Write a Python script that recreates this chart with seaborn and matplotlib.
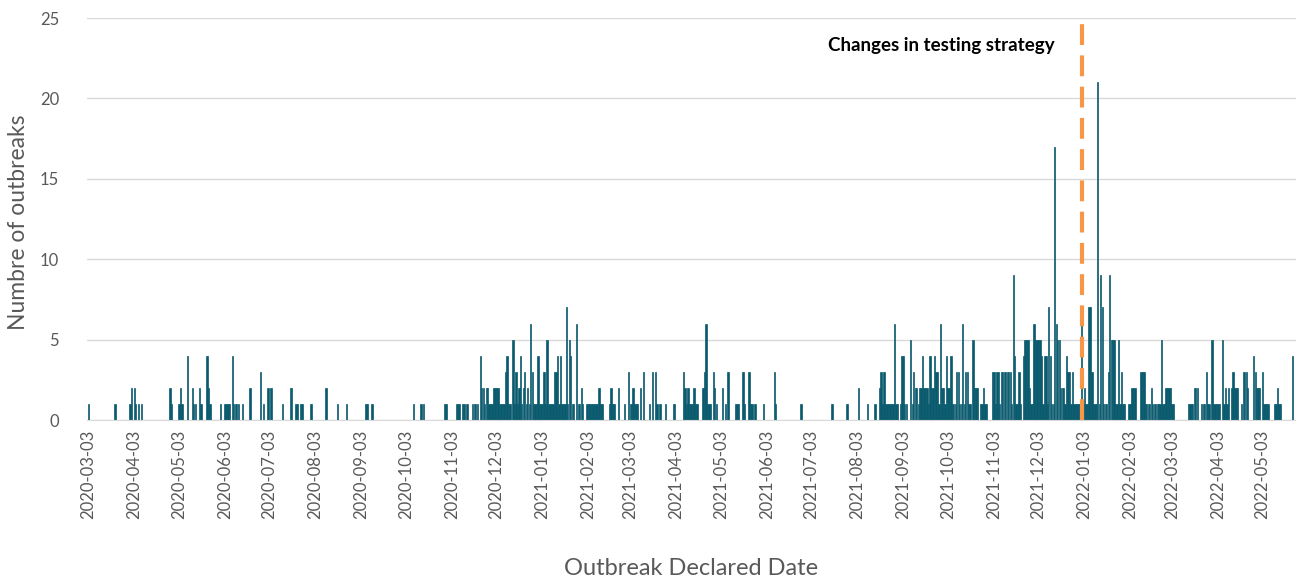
import pandas as pd
import matplotlib
matplotlib.use("Agg")
import matplotlib.pyplot as plt
import seaborn as sns

# first and last day on the axis
first_date = "2020-03-03"
last_date = "2022-05-24"

# quiet periods, kept as (days after first_date, outbreaks)
days_2020 = [0, 18, 28, 29, 31, 32, 34, 36, 55, 56,
             61, 62, 63, 67, 70, 71, 72, 75, 76, 80,
             81, 82, 89, 92, 93, 94, 95, 97, 98, 99,
             100, 101, 104, 109, 116, 118, 121, 123, 131, 136,
             137, 140, 141, 143, 144, 150, 160, 168, 174, 187,
             188, 191, 219, 224, 226, 240, 241, 248, 249, 250,
             252, 253, 255, 259, 260, 261, 262]
counts_2020 = [1, 1, 1, 2, 2, 1, 1, 1, 2, 1,
               1, 2, 1, 4, 2, 1, 1, 2, 1, 4,
               2, 1, 1, 1, 1, 1, 1, 4, 1, 1,
               1, 1, 1, 2, 3, 1, 2, 2, 1, 2,
               2, 1, 1, 1, 1, 1, 2, 1, 1, 1,
               1, 1, 1, 1, 1, 1, 1, 1, 1, 1,
               1, 1, 1, 1, 1, 1, 1]

days_2021 = [336, 337, 338, 339, 340, 341, 342, 343, 344, 345,
             346, 351, 352, 353, 354, 357, 361, 364, 365, 366,
             367, 368, 369, 370, 372, 374, 378, 380, 382, 383,
             385, 389, 394, 395, 401, 402, 403, 404, 405, 406,
             407, 408, 409, 410, 414, 415, 416, 417, 418, 419,
             421, 422, 423, 427, 429, 431, 436, 437, 438, 441,
             442, 445, 446, 447, 449, 455, 462, 463, 480, 501,
             511, 519, 525, 530, 533]
counts_2021 = [1, 1, 1, 1, 1, 1, 1, 1, 2, 1,
               1, 1, 2, 1, 1, 2, 1, 3, 1, 1,
               2, 1, 1, 1, 2, 3, 1, 3, 3, 1,
               1, 1, 1, 1, 3, 2, 1, 2, 1, 1,
               1, 2, 1, 1, 2, 3, 6, 1, 1, 1,
               3, 2, 1, 2, 1, 3, 1, 1, 1, 3,
               1, 3, 1, 1, 1, 1, 3, 1, 1, 1,
               1, 2, 1, 1, 2]

# busy periods, one value per day from the start day
wave1_start = 264
wave1 = [4, 2, 2, 1, 2, 2, 1, 1, 1, 2,
         2, 2, 2, 1, 1, 1, 1, 3, 4, 1,
         1, 0, 5, 1, 3, 1, 2, 4, 1, 2,
         3, 1, 2, 1, 6, 3, 1, 1, 1, 4,
         1, 1, 1, 3, 1, 5, 1, 1, 1, 1,
         3, 3, 4, 1, 4, 1, 1, 1, 7, 1,
         5, 4, 1, 1, 0, 6, 1, 1, 2, 1]

wave2_start = 534
wave2 = [3, 1, 3, 1, 1, 1, 1, 1, 1, 6,
         1, 1, 0, 1, 4, 4, 1, 1, 0, 0,
         5, 1, 3, 2, 2, 1, 2, 2, 4, 2,
         2, 2, 1, 4, 2, 2, 4, 3, 3, 1,
         6, 2, 2, 1, 4, 2, 2, 4, 1, 1,
         1, 3, 3, 1, 1, 6, 1, 3, 3, 1,
         1, 0, 5, 2, 2, 2, 0, 1, 1, 2,
         1, 1, 0, 0, 0, 3, 3, 1, 3, 3,
         1, 3, 3, 3, 3, 3, 3, 3, 1, 9,
         4, 1, 1, 3, 1, 0, 4, 5, 5, 5,
         2, 1, 1, 6, 5, 5, 5, 5, 4, 1,
         4, 4, 1, 7, 4, 1, 1, 17, 6, 5,
         5, 2, 2, 2, 1, 4, 3, 3, 1, 3,
         1, 1, 1, 1, 1, 7, 1, 2, 1, 1,
         7, 7, 3, 1, 1, 1, 21, 1, 9, 7,
         1, 1, 1, 3, 9, 5, 5, 5, 1, 1,
         5, 1, 3, 1, 1, 0, 0, 1, 1, 2,
         2, 2, 0, 0, 0, 3, 3, 3, 1, 1,
         1, 1, 2, 1, 1, 1, 1, 1, 1, 5,
         1, 1, 2, 2, 2, 2, 1, 1, 0, 0]

wave3_start = 741
wave3 = [1, 1, 1, 1, 2, 2, 2, 0, 0, 1,
         1, 1, 3, 1, 1, 0, 5, 1, 1, 1,
         1, 1, 0, 5, 1, 2, 1, 2, 0, 2,
         3, 2, 2, 2, 0, 0, 1, 3, 3, 3,
         2, 0, 0, 0, 4, 3, 2, 2, 2, 0,
         3, 1, 1, 1, 1, 0, 0, 0, 1, 1,
         2, 1, 1, 0, 0, 0, 0, 0, 0, 0,
         4]

testing_change_day = 669.5
note = "Changes in testing strategy"

assert len(days_2020) == len(counts_2020)
assert len(days_2021) == len(counts_2021)

# daily table with zeros on days without outbreaks
dates = pd.date_range(first_date, last_date, freq="D")
n = pd.Series(0, index=range(len(dates)))
for d, c in zip(days_2020 + days_2021, counts_2020 + counts_2021):
    n[d] = c
for start, vals in [(wave1_start, wave1), (wave2_start, wave2), (wave3_start, wave3)]:
    for i, v in enumerate(vals):
        n[start + i] = v

df = pd.DataFrame({"date": dates.strftime("%Y-%m-%d"), "outbreaks": n.values})

sns.set_style("white")
plt.rcParams["font.family"] = ["Lato", "DejaVu Sans"]

grey = "#595959"
teal = "#0A5A6E"
fig = plt.figure(figsize=(12.96, 5.81), dpi=100)
ax = fig.add_axes([0.067, 0.277, 0.933, 0.692])

sns.barplot(ax=ax, data=df, x="date", y="outbreaks", color=teal,
            width=0.9, linewidth=0.5, edgecolor=teal, saturation=1, errorbar=None)

# monthly ticks on the 3rd
tick_dates = pd.date_range("2020-03-01", "2022-05-01", freq="MS") + pd.Timedelta(days=2)
tick_pos = (tick_dates - pd.Timestamp(first_date)).days
ax.set_xticks(tick_pos)
ax.set_xticklabels(tick_dates.strftime("%Y-%m-%d"), rotation=90)
ax.set_xlim(-1, len(dates) + 0.5)
ax.set_ylim(0, 25)
ax.set_yticks([0, 5, 10, 15, 20, 25])

ax.yaxis.grid(True, color="#D9D9D9", lw=1)
ax.set_axisbelow(True)
for s in ["left", "top", "right"]:
    ax.spines[s].set_visible(False)
ax.spines["bottom"].set_color("#D9D9D9")
ax.tick_params(axis="x", length=4, color="#D9D9D9", labelsize=12, labelcolor=grey, pad=3)
ax.tick_params(axis="y", length=0, labelsize=12, labelcolor=grey, pad=20)
ax.set_xlabel("")
ax.set_ylabel("")

ax.axvline(testing_change_day, color="#F79646", lw=3, linestyle=(0, (5, 2.5)), zorder=5)
ax.text(651, 23.3, note, ha="right", va="center", fontsize=13.5,
        fontweight="bold", color="black")

fig.text(0.014, 0.618, "Numbre of outbreaks", rotation=90, ha="center", va="center",
         fontsize=16.5, color=grey)
fig.text(0.533, 0.022, "Outbreak Declared Date", ha="center", va="center",
         fontsize=17, color=grey)

fig.savefig("out.png", dpi=100)
